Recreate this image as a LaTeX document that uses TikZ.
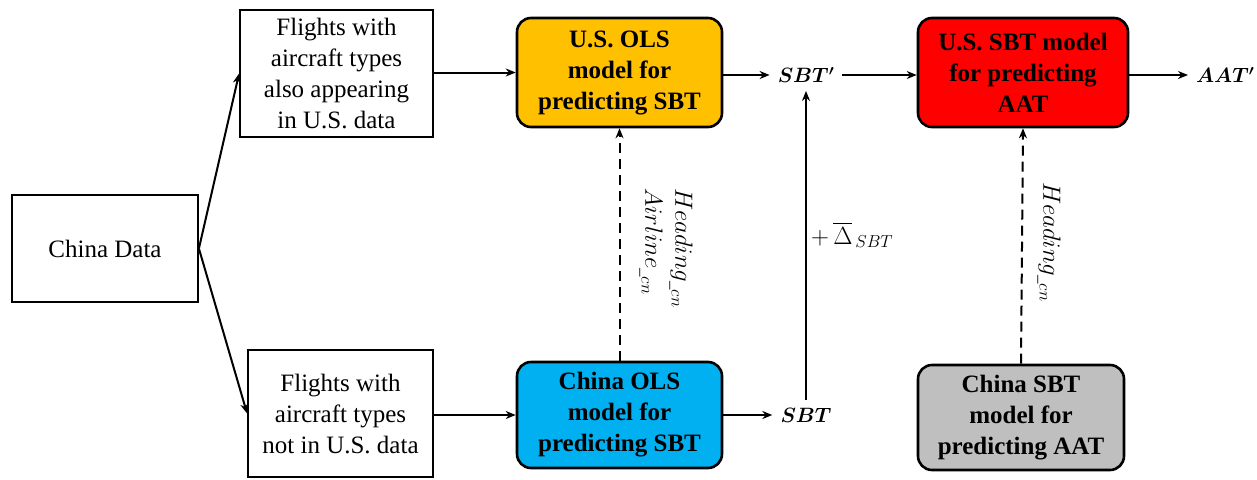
\documentclass[tikz,border=0pt]{standalone}
\usepackage{amsmath,bm}
\usepackage{fontspec}
\setmainfont{Liberation Serif}
\usetikzlibrary{arrows.meta}
\definecolor{cOrange}{HTML}{FFC000}
\definecolor{cBlue}{HTML}{00B0F0}
\definecolor{cRed}{HTML}{FF0000}
\definecolor{cGray}{HTML}{BFBFBF}
\tikzset{
  plainbox/.style={draw, line width=1.8pt, fill=white, align=center, inner sep=0pt,
    font=\fontsize{25}{31}\selectfont},
  modelbox/.style={draw, line width=2.6pt, rounded corners=14pt, align=center, inner sep=0pt,
    font=\fontsize{25}{31}\selectfont\bfseries},
  varlabel/.style={inner sep=8pt, font=\fontsize{20}{24}\selectfont},
  arr/.style={line width=2pt, -{Stealth[length=10pt,width=8pt]}},
  darr/.style={arr, dash pattern=on 10pt off 6pt},
  mlabel/.style={font=\fontsize{24}{30}\selectfont, inner sep=0pt}
}
\begin{document}
\begin{tikzpicture}[x=1pt,y=-1pt]
\useasboundingbox (0,0) rectangle (1257,479);
\node[plainbox, minimum width=186pt, minimum height=107pt] (china) at (105,248.5) {China Data};
\node[plainbox, minimum width=193pt, minimum height=127pt] (fa) at (336.5,73.5) {Flights with\\aircraft types\\also appearing\\in U.S. data};
\node[plainbox, minimum width=185pt, minimum height=127pt] (fb) at (340.5,413.5) {Flights with\\aircraft types\\not in U.S. data};
\node[modelbox, fill=cOrange, minimum width=205pt, minimum height=109pt] (olsus) at (619.5,72.5) {U.S. OLS\\model for\\predicting SBT};
\node[modelbox, fill=cBlue, minimum width=205pt, minimum height=106pt] (olscn) at (619.5,415) {China OLS\\model for\\predicting SBT};
\node[modelbox, fill=cRed, minimum width=210pt, minimum height=109pt] (sbtus) at (1023,72.5) {U.S. SBT model\\for predicting\\AAT};
\node[modelbox, fill=cGray, minimum width=206pt, minimum height=105pt] (sbtcn) at (1021,417.5) {China SBT\\model for\\predicting AAT};
\node[varlabel] (sbtp) at (806,75) {$\bm{SBT'}$};
\node[varlabel, anchor=west] (aatp) at (1188,75) {$\bm{AAT'}$};
\node[varlabel] (sbt) at (806,415) {$\bm{SBT}$};
\draw[arr] (china.east) -- (fa.west);
\draw[arr] (china.east) -- (fb.west);
\draw[arr] (fa.east |- olsus.west) -- (olsus.west);
\draw[arr] (fb.east |- olscn.west) -- (olscn.west);
\draw[arr] (olsus.east |- sbtp.west) -- (sbtp.west);
\draw[arr] (olscn.east |- sbt.west) -- (sbt.west);
\draw[arr] (sbtp.east) -- (sbtus.west |- sbtp.east);
\draw[arr] (sbtus.east |- aatp.west) -- (aatp.west);
\draw[arr] (sbt.north) -- (sbtp.south);
\draw[darr] (olscn.north) -- (olsus.south);
\draw[darr] (sbtcn.north) -- (sbtus.south);
\node[mlabel, rotate=-90, align=left] (lab1) at (666,248) {$Heading_{\_cn}$\\$Airline_{\_cn}$};
\node[mlabel, anchor=west] (lab2) at (811,235) {$+\,\overline{\Delta}_{\,SBT}$};
\node[mlabel, rotate=-90] (lab3) at (1049,242) {$Heading_{\_cn}$};
\end{tikzpicture}
\end{document}
